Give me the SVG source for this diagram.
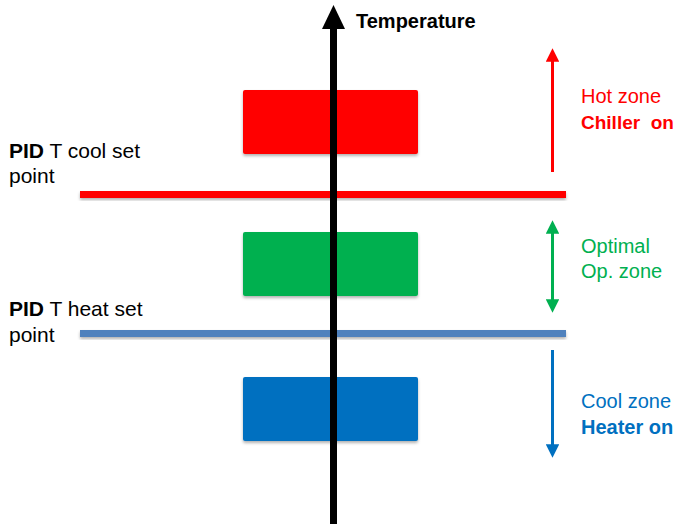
<svg xmlns="http://www.w3.org/2000/svg" width="677" height="524" viewBox="0 0 677 524">
  <style>
    text { font-family: "Liberation Sans", Arial, sans-serif; font-size: 20px; }
    .b { font-weight: bold; }
    .lbl { font-size: 21px; fill: #000; }
    .red { fill: #FF0000; }
    .green { fill: #00B050; }
    .blue { fill: #0070C0; }
    .tight { font-size: 19px; }
  </style>
  <defs>
    <filter id="shadow" x="-10%" y="-20%" width="120%" height="160%">
      <feDropShadow dx="0" dy="2" stdDeviation="1.5" flood-color="#000" flood-opacity="0.3"/>
    </filter>
    <marker id="ah-red" viewBox="0 0 10 10" refX="5" refY="5" markerWidth="4.5" markerHeight="4.5" orient="auto-start-reverse" markerUnits="strokeWidth">
      <path d="M0,0 L10,5 L0,10 Z" fill="#FF0000"/>
    </marker>
    <marker id="ah-green" viewBox="0 0 10 10" refX="5" refY="5" markerWidth="4.5" markerHeight="4.5" orient="auto-start-reverse" markerUnits="strokeWidth">
      <path d="M0,0 L10,5 L0,10 Z" fill="#00B050"/>
    </marker>
    <marker id="ah-blue" viewBox="0 0 10 10" refX="5" refY="5" markerWidth="4.5" markerHeight="4.5" orient="auto-start-reverse" markerUnits="strokeWidth">
      <path d="M0,0 L10,5 L0,10 Z" fill="#0070C0"/>
    </marker>
  </defs>

  <!-- zone blocks -->
  <g id="hot-block">
    <rect x="243" y="90" width="175" height="64" rx="2" fill="#FF0000" filter="url(#shadow)"/>
  </g>
  <g id="optimal-block">
    <rect x="243" y="232" width="175" height="64" rx="2" fill="#00B050" filter="url(#shadow)"/>
  </g>
  <g id="cool-block">
    <rect x="243" y="377" width="175" height="64" rx="2" fill="#0070C0" filter="url(#shadow)"/>
  </g>

  <!-- set point lines -->
  <g id="cool-setpoint">
    <rect x="80" y="191" width="486" height="7" fill="#FF0000" filter="url(#shadow)"/>
    <text x="9" y="158" class="lbl"><tspan class="b">PID</tspan> T cool set</text>
    <text x="9" y="183" class="lbl">point</text>
  </g>
  <g id="heat-setpoint">
    <rect x="80" y="330" width="486" height="7" fill="#4F81BD" filter="url(#shadow)"/>
    <text x="9" y="316" class="lbl"><tspan class="b">PID</tspan> T heat set</text>
    <text x="9" y="342" class="lbl">point</text>
  </g>

  <!-- temperature axis -->
  <g id="axis">
    <rect x="330" y="28" width="7" height="496" fill="#000"/>
    <polygon points="333.5,5 322,29 345,29" fill="#000"/>
    <text x="356" y="28" class="b">Temperature</text>
  </g>

  <!-- zone arrows -->
  <g id="connectors">
    <line x1="552.5" y1="172" x2="552.5" y2="55" stroke="#FF0000" stroke-width="3" marker-end="url(#ah-red)"/>
    <line x1="552.5" y1="227" x2="552.5" y2="306" stroke="#00B050" stroke-width="3" marker-start="url(#ah-green)" marker-end="url(#ah-green)"/>
    <line x1="552.5" y1="350" x2="552.5" y2="451" stroke="#0070C0" stroke-width="3" marker-end="url(#ah-blue)"/>
  </g>

  <!-- zone labels -->
  <g id="hot-zone-label">
    <text x="581" y="103" class="red">Hot zone</text>
    <text x="581" y="129" class="red b tight" xml:space="preserve">Chiller  on</text>
  </g>
  <g id="optimal-zone-label">
    <text x="581" y="253" class="green">Optimal</text>
    <text x="581" y="278" class="green">Op. zone</text>
  </g>
  <g id="cool-zone-label">
    <text x="581" y="408" class="blue">Cool zone</text>
    <text x="581" y="434" class="blue b">Heater on</text>
  </g>
</svg>
